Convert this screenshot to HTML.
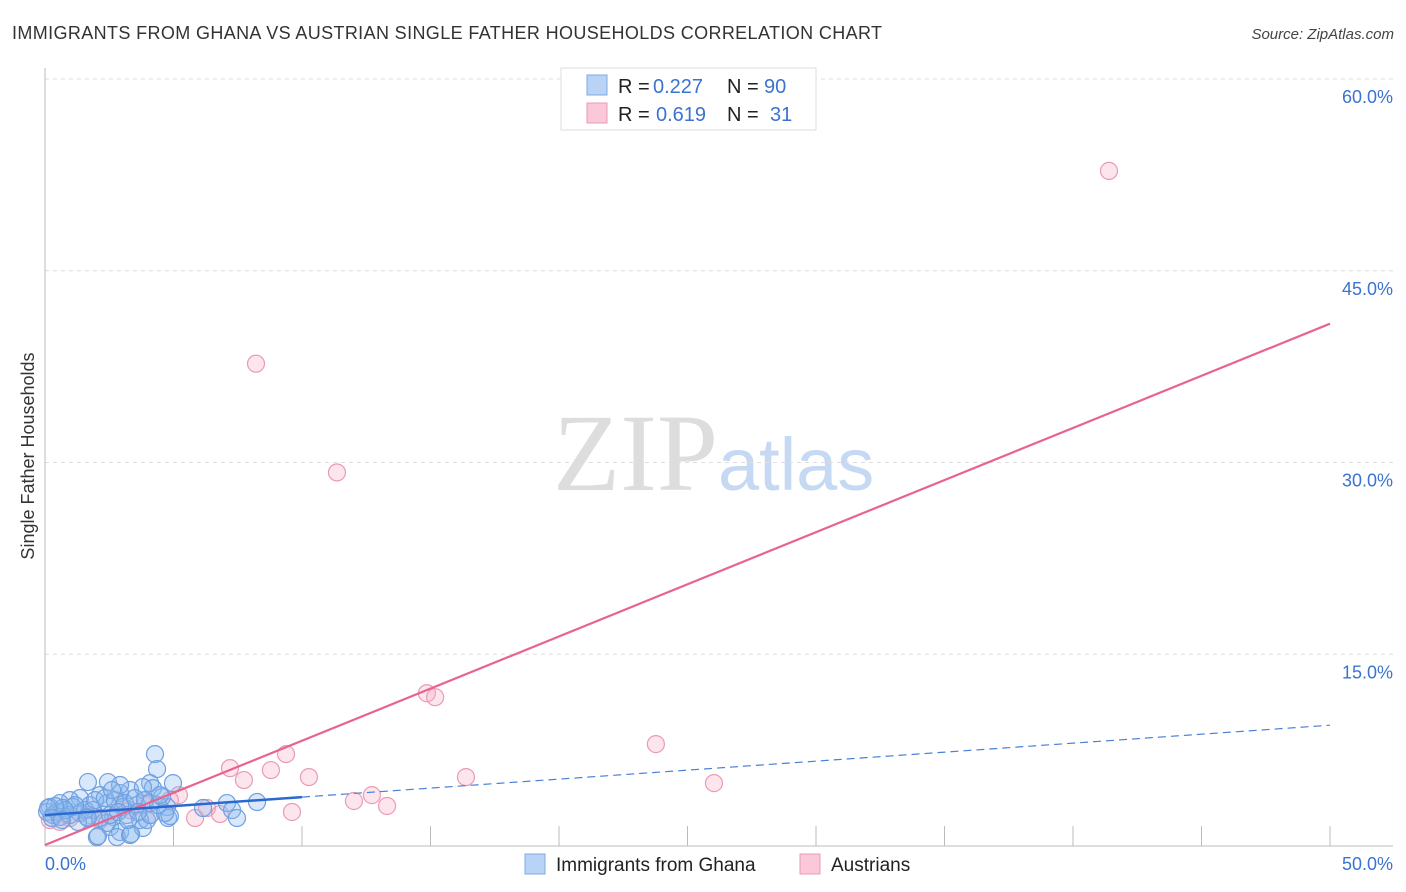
<!DOCTYPE html>
<html><head><meta charset="utf-8"><style>
body{margin:0;background:#fff;font-family:"Liberation Sans",sans-serif}
svg{display:block}
</style></head><body>
<svg id="chart" width="1406" height="892">
<text x="12" y="39" font-size="18" fill="#333" textLength="870">IMMIGRANTS FROM GHANA VS AUSTRIAN SINGLE FATHER HOUSEHOLDS CORRELATION CHART</text>
<text x="1394" y="39" font-size="15" fill="#444" font-style="italic" text-anchor="end">Source: ZipAtlas.com</text>
<text transform="translate(34,456) rotate(-90)" font-size="18" fill="#333" text-anchor="middle">Single Father Households</text>
<g>
<text x="553" y="490" font-size="110" font-family="Liberation Serif,serif" fill="#ddd">ZIP</text>
<text x="718" y="490" font-size="74" fill="#c5d9f2">atlas</text>
</g>
<g id="grid"></g><g id="axes"></g><g id="marks"></g>
<g>
<rect x="561" y="68" width="255" height="62" fill="#fff" stroke="#ddd"/>
<rect x="587" y="75" width="20" height="20" fill="#b8d3f5" stroke="#7fa8e0"/>
<rect x="587" y="103" width="20" height="20" fill="#fac8d8" stroke="#eb9ab6"/>
<text y="93" font-size="20" fill="#222"><tspan x="618">R =</tspan><tspan x="653" fill="#3b73d1">0.227</tspan><tspan x="727">N =</tspan><tspan x="764" fill="#3b73d1">90</tspan></text>
<text y="121" font-size="20" fill="#222"><tspan x="618">R =</tspan><tspan x="656" fill="#3b73d1">0.619</tspan><tspan x="727">N =</tspan><tspan x="770" fill="#3b73d1">31</tspan></text>
</g>
<g>
<rect x="525" y="854" width="20" height="20" fill="#b8d3f5" stroke="#7fa8e0"/>
<text x="556" y="871" font-size="19" fill="#222">Immigrants from Ghana</text>
<rect x="800" y="854" width="20" height="20" fill="#fac8d8" stroke="#eb9ab6"/>
<text x="831" y="871" font-size="19" fill="#222">Austrians</text>
</g>
</svg>
<script>
const yTicks=[15,30,45,60];
const yTickLabels=["15.0%","30.0%","45.0%","60.0%"];
const xTicks=[0,5,10,15,20,25,30,35,40,45,50];
const blueX=[4.28,4.36,1.67,2.45,4.98,4.09,4.20,3.31,3.81,2.92,2.14,1.36,0.97,0.58,0.19,0.08,0.47,1.09,1.75,2.41,3.04,3.58,4.09,4.75,4.79,6.15,7.08,7.28,7.47,8.25,2.65,3.19,3.70,2.53,2.92,2.02,2.80,3.31,3.81,3.97,4.09,1.36,1.87,0.70,0.31,2.41,0.58,0.97,1.63,2.14,3.35,2.06,4.86,4.67,2.53,1.56,1.95,2.33,2.72,3.11,3.50,3.89,1.17,0.78,0.39,0.12,0.27,0.66,1.28,1.67,2.84,3.23,3.62,4.40,4.55,2.92,2.61,4.47];
const blueY=[7.19,6.02,5.00,5.00,4.92,4.92,4.53,4.38,4.61,4.14,3.98,3.75,3.59,3.36,3.05,2.66,2.66,3.05,3.20,3.36,3.05,3.20,3.36,3.05,2.19,2.97,3.36,2.81,2.19,3.44,2.27,2.42,2.03,1.48,1.09,0.70,0.70,0.86,1.41,2.03,2.42,2.58,2.81,2.97,2.42,1.80,2.27,2.42,2.27,2.19,0.94,0.78,2.34,2.58,2.42,2.81,3.59,3.75,3.59,3.36,3.75,3.59,3.20,2.81,3.13,2.97,2.19,2.03,1.88,2.19,2.66,2.03,2.66,3.20,3.83,4.77,4.38,3.98];
const pinkX=[8.21,11.36,41.40,14.86,15.18,23.77,9.38,7.20,8.79,10.27,7.74,16.38,26.03,12.72,12.02,13.31,5.21,6.30,9.61,6.81,5.84,4.86,3.89,2.92,0.19,0.58,0.97,1.75,2.14,3.31,4.09];
const pinkY=[37.73,29.22,52.81,11.95,11.64,7.97,7.19,6.09,5.94,5.39,5.16,5.39,4.92,3.98,3.52,3.13,3.98,2.97,2.66,2.50,2.19,3.59,3.20,3.20,2.03,1.88,2.19,2.42,2.03,2.81,2.42];
const blueTrend=[2.42,0.1406];
const pinkTrend=[0.08,0.8156];
const blueSolidEnd=10;
const X=v=>45+v/50*1285, Y=v=>846-v/60*767;
const NS="http://www.w3.org/2000/svg";
function mk(parent,tag,attrs){const e=document.createElementNS(NS,tag);for(const k in attrs)e.setAttribute(k,attrs[k]);document.getElementById(parent).appendChild(e);return e;}
yTicks.forEach((t,i)=>{
 const g=mk('grid','line',{x1:45,x2:1393,y1:Y(t),y2:Y(t),stroke:'#ddd','stroke-dasharray':'4,4'});
 
 
 const l=mk('axes','text',{x:1393,y:Y(t)+24,'font-size':18,fill:'#3b73d1','text-anchor':'end'});
 l.textContent=yTickLabels[i];
 
 
});
const ya=mk('axes','line',{x1:45,x2:45,y1:68,y2:846,stroke:'#bbb'});


const xa=mk('axes','line',{x1:45,x2:1393,y1:846,y2:846,stroke:'#bbb'});


xTicks.forEach(t=>{
 const k=mk('axes','line',{x1:X(t),x2:X(t),y1:826,y2:846,stroke:'#bbb'});
 
 
});
const xl0=mk('axes','text',{x:45,y:870,'font-size':18,fill:'#3b73d1'});xl0.textContent="0.0%";


const xl1=mk('axes','text',{x:1393,y:870,'font-size':18,fill:'#3b73d1','text-anchor':'end'});xl1.textContent="50.0%";


pinkX.forEach((x,i)=>{
 const c=mk('marks','circle',{cx:X(x),cy:Y(pinkY[i]),r:8.5,fill:'rgba(245,170,195,0.3)',stroke:'#eb9ab6','stroke-width':1.2});
 
 
});
blueX.forEach((x,i)=>{
 const c=mk('marks','circle',{cx:X(x),cy:Y(blueY[i]),r:8.5,fill:'rgba(140,185,240,0.33)',stroke:'#6fa0e0','stroke-width':1.2});
 
 
});
const pt=mk('marks','line',{x1:X(0),y1:Y(pinkTrend[0]),x2:X(50),y2:Y(pinkTrend[0]+pinkTrend[1]*50),stroke:'#e8648e','stroke-width':2.2});


const bs=mk('marks','line',{x1:X(0),y1:Y(blueTrend[0]),x2:X(blueSolidEnd),y2:Y(blueTrend[0]+blueTrend[1]*blueSolidEnd),stroke:'#2a6ad0','stroke-width':2.5});


const bd=mk('marks','line',{x1:X(blueSolidEnd),y1:Y(blueTrend[0]+blueTrend[1]*blueSolidEnd),x2:X(50),y2:Y(blueTrend[0]+blueTrend[1]*50),stroke:'#4a80d8','stroke-width':1.2,'stroke-dasharray':'8,5'});


</script>
</body></html>
